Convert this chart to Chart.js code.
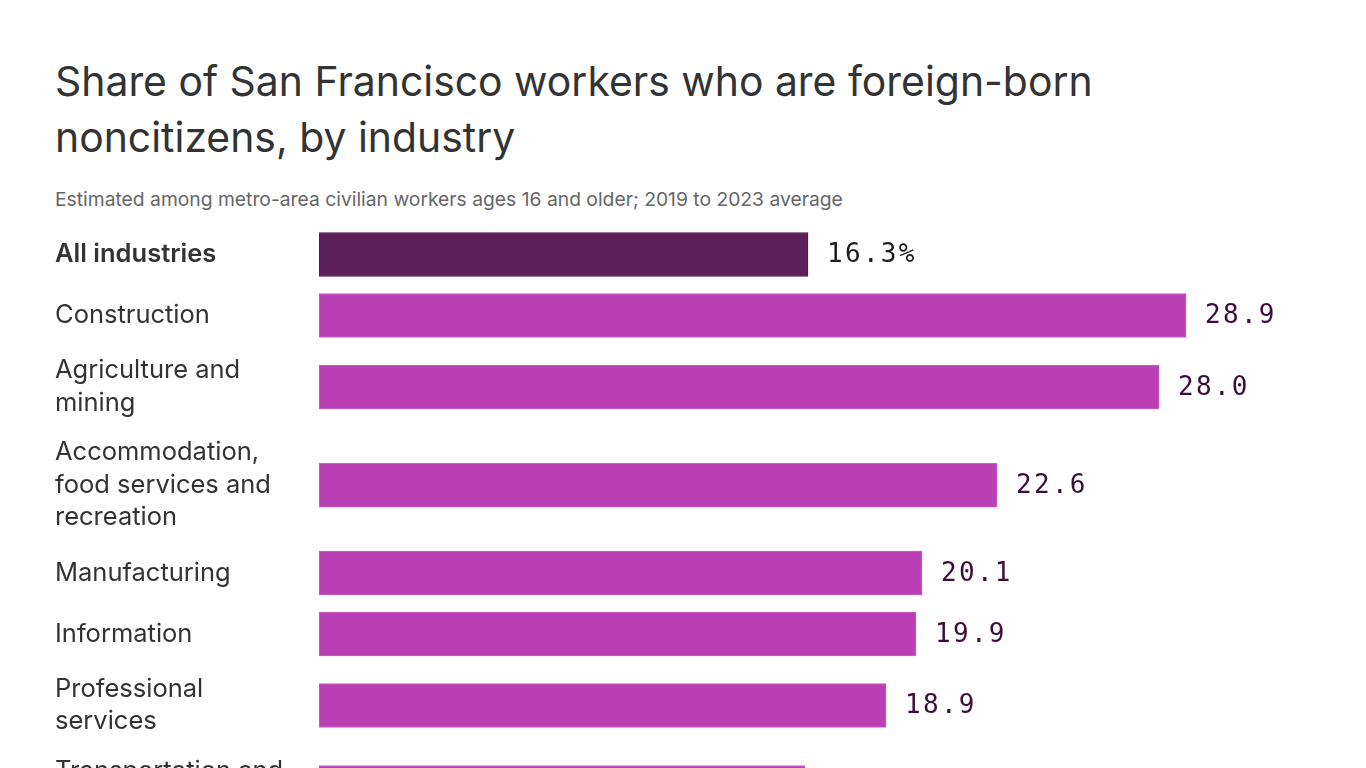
<!DOCTYPE html>
<html>
<head>
<meta charset="utf-8">
<script src="https://cdn.jsdelivr.net/npm/chart.js@4.4.1/dist/chart.umd.min.js"></script>
<style>
html,body{margin:0;padding:0;width:1366px;height:768px;overflow:hidden;background:#fff;}
#title{position:absolute;left:55px;top:53px;margin:0;font-family:Inter,"Noto Sans",sans-serif;font-weight:400;font-size:40.9px;line-height:56px;color:#333;letter-spacing:0;white-space:nowrap;}
#sub{position:absolute;left:55px;top:187px;font-family:Inter,"Noto Sans",sans-serif;font-size:19.3px;line-height:24px;color:#666;white-space:nowrap;}
#wrap{position:absolute;left:0;top:224px;width:1366px;height:700px;}
</style>
</head>
<body>
<h1 id="title">Share of San Francisco workers who are foreign-born<br>noncitizens, by industry</h1>
<div id="sub">Estimated among metro-area civilian workers ages 16 and older; 2019 to 2023 average</div>
<div id="wrap"><canvas id="c" width="1366" height="700"></canvas></div>
<script>
// ---- data ----
const categories = [
  ["All industries"],
  ["Construction"],
  ["Agriculture and", "mining"],
  ["Accommodation,", "food services and", "recreation"],
  ["Manufacturing"],
  ["Information"],
  ["Professional", "services"],
  ["Transportation and", "warehousing"]
];
const values = [16.3, 28.9, 28.0, 22.6, 20.1, 19.9, 18.9, 16.2];
const highlightIndex = 0;

// ---- layout (row height follows number of label lines) ----
const LINE_H = 32.5, BAR_H = 44, GAP = 17, AREA_H = 700;
const rowHeights = categories.map(l => Math.max(BAR_H, l.length * LINE_H) + GAP);
const rowCenters = [];
rowHeights.reduce((acc, h) => { rowCenters.push(acc + h / 2); return acc + h; }, 0);

const fmt = (v, i) => i === highlightIndex ? v.toFixed(1) + '%' : v.toFixed(1);

const valueLabelPlugin = {
  id: 'valueLabels',
  afterDatasetsDraw(chart) {
    const ctx = chart.ctx;
    const meta = chart.getDatasetMeta(0);
    ctx.save();
    ctx.font = '26px "DejaVu Sans Mono", monospace';
    if ('letterSpacing' in ctx) ctx.letterSpacing = '2.3px';
    ctx.textAlign = 'left';
    ctx.textBaseline = 'middle';
    meta.data.forEach((bar, i) => {
      ctx.fillStyle = i === highlightIndex ? '#1f1a1f' : '#3e0c3c';
      ctx.fillText(fmt(values[i], i), bar.x + 19, bar.y + 1);
    });
    ctx.restore();
  }
};

new Chart(document.getElementById('c'), {
  type: 'bar',
  data: {
    datasets: [{
      data: values.map((v, i) => ({ x: v, y: rowCenters[i] })),
      backgroundColor: values.map((v, i) => i === highlightIndex ? '#5c1f5a' : '#bb3fb5'),
      borderColor: values.map((v, i) => i === highlightIndex ? '#4e1550' : '#c862c3'),
      borderWidth: 1,
      borderSkipped: false,
      barThickness: BAR_H
    }]
  },
  options: {
    indexAxis: 'y',
    responsive: false,
    animation: false,
    layout: { autoPadding: false, padding: { left: 55, right: 27, top: 0, bottom: 0 } },
    plugins: { legend: { display: false }, tooltip: { enabled: false } },
    scales: {
      x: { type: 'linear', min: 0, max: 34, display: false },
      y: {
        type: 'linear', min: 0, max: AREA_H, reverse: true, offset: false, grace: 0,
        afterBuildTicks: s => { s.ticks = rowCenters.map(v => ({ value: v })); },
        afterFit: s => { s.width = 264; s.paddingTop = 0; s.paddingBottom = 0; },
        grid: { display: false },
        border: { display: false },
        ticks: {
          autoSkip: false,
          crossAlign: 'far',
          padding: 0,
          color: '#333',
          font: c => ({ family: 'Inter, "Noto Sans", sans-serif', size: 25.5, lineHeight: 32.5 / 25.5, weight: c.index === highlightIndex ? '600' : '400' }),
          callback: (v, i) => categories[i]
        }
      }
    }
  },
  plugins: [valueLabelPlugin]
});
</script>
</body>
</html>
